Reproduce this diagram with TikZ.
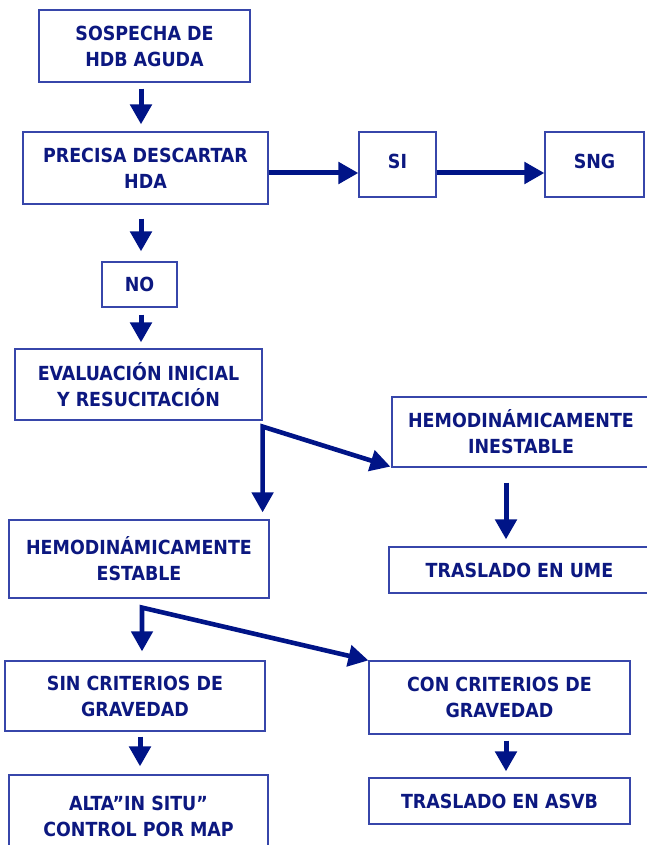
\documentclass[tikz,border=0pt]{standalone}
\usepackage{fontspec}
\setmainfont{DejaVu Sans Condensed}
\usetikzlibrary{arrows.meta,calc}
\definecolor{txt}{RGB}{12,24,128}
\definecolor{frame}{RGB}{55,70,170}
\definecolor{arr}{RGB}{0,20,135}
\begin{document}
\begin{tikzpicture}[x=1pt,y=-1pt,
 box/.style={draw=frame, line width=1.2pt, fill=white, text=txt,
   font=\bfseries\fontsize{19.4}{26}\selectfont, align=center, inner sep=0pt},
 flow/.style={draw=arr, line width=5pt, line join=miter, -{Triangle[width=21pt,length=20pt]}},
 flow2/.style={draw=arr, line width=4.6pt, line join=miter, {Triangle[width=21pt,length=20pt]}-{Triangle[width=21pt,length=20pt]}}]
\useasboundingbox (0,0) rectangle (646,845);
\fill[white] (0,0) rectangle (646,845);
\node[box, minimum width=211pt, minimum height=72pt] (b1) at (144.5,46) {SOSPECHA DE\\HDB AGUDA};
\node[box, minimum width=245pt, minimum height=72pt] (b2) at (145.5,168) {PRECISA DESCARTAR\\HDA};
\node[box, minimum width=77pt, minimum height=65pt] (si) at (397.5,164.5) {\raisebox{7pt}{SI}};
\node[box, minimum width=99pt, minimum height=65pt] (sng) at (594.5,164.5) {\raisebox{7pt}{SNG}};
\node[box, minimum width=75pt, minimum height=45pt] (no) at (139.5,284.5) {NO};
\node[box, minimum width=247pt, minimum height=71pt] (eval) at (138.5,384.5) {EVALUACIÓN INICIAL\\Y RESUCITACIÓN};
\node[box, minimum width=258pt, minimum height=70pt] (inest) at (521,432) {HEMODINÁMICAMENTE\\INESTABLE};
\node[box, minimum width=261pt, minimum height=46pt] (ume) at (519.5,570) {TRASLADO EN UME};
\node[box, minimum width=260pt, minimum height=78pt] (estab) at (139,559) {HEMODINÁMICAMENTE\\ESTABLE};
\node[box, minimum width=260pt, minimum height=70pt] (sin) at (135,696) {SIN CRITERIOS DE\\GRAVEDAD};
\node[box, minimum width=261pt, minimum height=73pt] (con) at (499.5,697.5) {CON CRITERIOS DE\\GRAVEDAD};
\node[box, minimum width=261pt, minimum height=46pt] (asvb) at (499.5,801) {TRASLADO EN ASVB};
\node[box, minimum width=259pt, minimum height=82pt] (alta) at (138.5,816) {ALTA”IN SITU”\\CONTROL POR MAP};

\coordinate (j1) at ($(eval.south east)+(0,6)$);
\coordinate (j2) at ($(estab.south)+(3,9)$);

\draw[flow] ($(b1.south)+(-3.5,6)$) -- ($(b2.north)+(-4.5,-7)$);
\draw[flow] ($(b2.east)+(0,5)$) -- ($(si.west)+(0,8.5)$);
\draw[flow] ($(si.east)+(0,8.5)$) -- ($(sng.west)+(0,8.5)$);
\draw[flow] ($(b2.south)+(-4.5,14)$) -- ($(no.north)+(1.5,-10)$);
\draw[flow] ($(no.south)+(1.5,7)$) -- ($(eval.north)+(2.5,-6)$);
\draw[flow2] ($(estab.north -| j1)+(0,-7)$) -- (j1) -- ($(inest.south west)+(-1,-1)$);
\draw[flow] ($(inest.south)+(-15,15)$) -- ($(ume.north)+(-13.5,-7)$);
\draw[flow2] ($(sin.north -| j2)+(0,-9)$) -- (j2) -- (con.north west);
\draw[flow] ($(sin.south)+(5,5)$) -- ($(alta.north)+(1.5,-8)$);
\draw[flow] ($(con.south)+(6.5,6)$) -- ($(asvb.north)+(6.5,-6)$);
\end{tikzpicture}
\end{document}
